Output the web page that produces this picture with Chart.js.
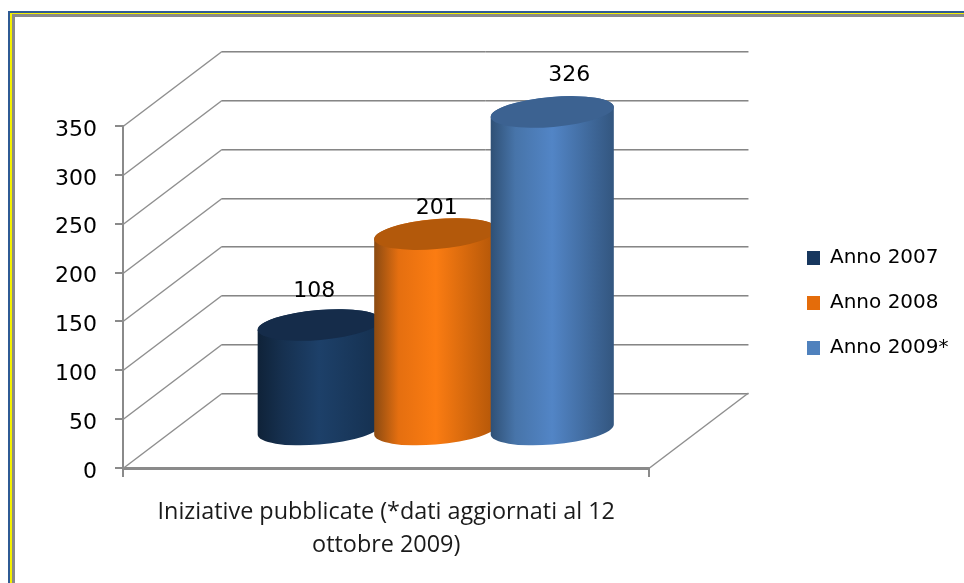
<!DOCTYPE html>
<html>
<head>
<meta charset="utf-8">
<title>Iniziative pubblicate</title>
<script src="https://cdn.jsdelivr.net/npm/chart.js@4"></script>
<style>
  html, body { margin: 0; padding: 0; background: #fff; overflow: hidden; }
  #frame1, #frame2, #frame3 { box-sizing: border-box; }
  #frame1 { position: absolute; left: 8px; top: 11px; width: 956px; height: 572px; border-left: 2px solid #2f5b94; border-top: 2px solid #2f5b94; }
  #frame2 { width: 100%; height: 100%; border-left: 2px solid #f5f000; border-top: 1px solid #f5f000; }
  #frame3 { width: 100%; height: 100%; border-left: 3px solid #8a8a8a; border-top: 3px solid #8a8a8a; }
  #pubChart { position: absolute; left: 0; top: 0; }
</style>
</head>
<body>
<div id="frame1"><div id="frame2"><div id="frame3"></div></div></div>
<canvas id="pubChart" width="964" height="583"></canvas>
<script>
// Data
const categories = [['Iniziative pubblicate (*dati aggiornati al 12', 'ottobre 2009)']];
const seriesNames = ['Anno 2007', 'Anno 2008', 'Anno 2009*'];
const anno2007 = [108];
const anno2008 = [201];
const anno2009 = [326];
const yMax = 350;
const yStep = 50;

// Colours per series: legend, top of the cylinder, side gradient
const legendColors = ['#17375e', '#e46c0a', '#4f81bd'];
const topColors = ['#152c4a', '#b3590b', '#3c6291'];
const sideColors = [
  ['#0f2238', '#16304f', '#1d4069', '#15304f'],
  ['#8a4a12', '#e56f10', '#fb7c12', '#b05508'],
  ['#2f5075', '#4774a9', '#5285c6', '#33567f']
];
// Nudge of the value labels, they do not sit centred in the original
const labelShift = [[-5, -34], [1, -26], [17, -37]];

// Fake 3D depth of the chart box
const depthX = 99;
const depthY = -75;

const wallPlugin = {
  id: 'wall',
  beforeDatasetsDraw(chart) {
    const { ctx, chartArea, scales } = chart;
    ctx.save();
    scales.y.ticks.forEach(t => {
      const y = Math.round(scales.y.getPixelForValue(t.value)) + 0.5;
      const backX = chartArea.left + depthX;
      const backY = y + depthY;
      ctx.strokeStyle = '#bdbdbd';
      ctx.lineWidth = 1;
      ctx.beginPath();
      ctx.moveTo(backX, backY + 1);
      ctx.lineTo(chartArea.right + depthX, backY + 1);
      ctx.stroke();
      ctx.strokeStyle = '#868686';
      ctx.beginPath();
      ctx.moveTo(backX, backY);
      ctx.lineTo(chartArea.right + depthX, backY);
      ctx.stroke();
      ctx.strokeStyle = '#8f8f8f';
      ctx.lineWidth = 1.5;
      ctx.beginPath();
      ctx.moveTo(chartArea.left, y);
      ctx.lineTo(backX, backY);
      ctx.stroke();
    });
    // floor edge on the right
    const y0 = scales.y.getPixelForValue(0);
    ctx.beginPath();
    ctx.moveTo(chartArea.right, y0);
    ctx.lineTo(chartArea.right + depthX, y0 + depthY);
    ctx.stroke();
    ctx.restore();
  },
  // the flat bars are replaced by cylinders
  beforeDatasetDraw() {
    return false;
  },
  afterDatasetsDraw(chart) {
    const { ctx } = chart;
    const tilt = -0.085;
    chart.data.datasets.forEach((ds, i) => {
      const bar = chart.getDatasetMeta(i).data[0];
      const cx = bar.x + depthX / 2;
      const topY = bar.y + depthY / 2;
      const baseY = bar.base + depthY / 2;
      const rx = bar.width * 0.53;
      const ry = 15;
      // angle on the ellipse where the side walls touch it
      const t0 = Math.atan(-(ry / rx) * Math.tan(tilt));

      const grad = ctx.createLinearGradient(cx - rx, 0, cx + rx, 0);
      grad.addColorStop(0, sideColors[i][0]);
      grad.addColorStop(0.2, sideColors[i][1]);
      grad.addColorStop(0.5, sideColors[i][2]);
      grad.addColorStop(1, sideColors[i][3]);

      ctx.save();
      ctx.fillStyle = grad;
      ctx.beginPath();
      ctx.ellipse(cx, baseY, rx, ry, tilt, t0, t0 + Math.PI);
      ctx.ellipse(cx, topY, rx, ry, tilt, t0 + Math.PI, t0 + 2 * Math.PI);
      ctx.closePath();
      ctx.fill();

      ctx.fillStyle = topColors[i];
      ctx.beginPath();
      ctx.ellipse(cx, topY, rx, ry, tilt, 0, 2 * Math.PI);
      ctx.fill();
      ctx.restore();
    });

    // value labels on top of everything
    ctx.save();
    ctx.fillStyle = '#000';
    ctx.font = '22px "DejaVu Sans"';
    ctx.textAlign = 'center';
    ctx.textBaseline = 'middle';
    chart.data.datasets.forEach((ds, i) => {
      const bar = chart.getDatasetMeta(i).data[0];
      ctx.fillText(ds.data[0], bar.x + depthX / 2 + labelShift[i][0], bar.y + depthY / 2 + labelShift[i][1]);
    });
    ctx.restore();
  },
  // the legend box sits against the plot, move it where the original has it
  afterLayout(chart) {
    const legend = chart.legend;
    legend.left = 782;
    legend.top = 223;
    legend.right = 963;
    legend.bottom = 400;
    // y tick labels hang a little below their ticks in the original
    chart.scales.y.getLabelItems().forEach(item => { item.textOffset += 4; });
  }
};

const pubChart = new Chart(document.getElementById('pubChart').getContext('2d'), {
  type: 'bar',
  data: {
    labels: categories,
    datasets: [
      { label: seriesNames[0], data: anno2007, backgroundColor: legendColors[0] },
      { label: seriesNames[1], data: anno2008, backgroundColor: legendColors[1] },
      { label: seriesNames[2], data: anno2009, backgroundColor: legendColors[2] }
    ]
  },
  options: {
    responsive: false,
    animation: false,
    categoryPercentage: 0.664,
    barPercentage: 1,
    layout: { padding: { left: 0, top: 126, right: 138, bottom: 0 } },
    plugins: {
      tooltip: { enabled: false },
      legend: {
        position: 'right',
        align: 'start',
        maxWidth: 180,
        labels: {
          boxWidth: 13,
          boxHeight: 14,
          padding: 25,
          color: '#000',
          font: { family: '"DejaVu Sans"', size: 20 }
        }
      }
    },
    scales: {
      x: {
        afterFit(scale) { scale.height = 115; },
        grid: { drawOnChartArea: false, tickLength: 9, color: '#8a8a8a', lineWidth: 2 },
        border: { color: '#8a8a8a', width: 3 },
        ticks: {
          color: '#1a1a1a',
          maxRotation: 0,
          padding: 19,
          font: { family: '"Open Sans"', size: 23.4, lineHeight: 1.41 }
        }
      },
      y: {
        min: 0,
        max: yMax,
        afterFit(scale) { scale.width = 123; },
        grid: { drawOnChartArea: false, tickLength: 8, color: '#8a8a8a', lineWidth: 2 },
        border: { color: '#8a8a8a', width: 2 },
        ticks: {
          stepSize: yStep,
          color: '#000',
          padding: 18,
          font: { family: '"DejaVu Sans"', size: 22 }
        }
      }
    }
  },
  plugins: [wallPlugin]
});
</script>
</body>
</html>
